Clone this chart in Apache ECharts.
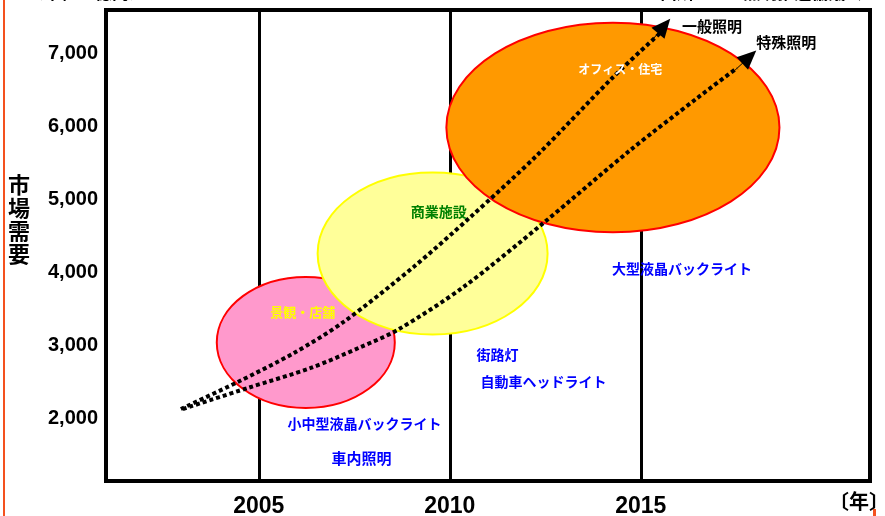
<!DOCTYPE html>
<html><head><meta charset="utf-8">
<script src="https://cdn.jsdelivr.net/npm/echarts@6/dist/echarts.min.js"></script>
<style>html,body{margin:0;padding:0;background:#fff}#c{width:885px;height:516px}</style>
</head><body><div id="c"></div>
<script>
// ---- data ----
const yearTicks = [2005, 2010, 2015];
const demandTicks = [2000, 3000, 4000, 5000, 6000, 7000];

const regionNames = ['景観・店舗', '商業施設', 'オフィス・住宅'];
const regionCenterYear = [2006.23, 2009.55, 2014.27];
const regionCenterDemand = [3047, 4266, 5991];
const regionHalfWidthYears = [2.33, 3.01, 4.36];
const regionHalfHeightDemand = [897, 1109, 1435];
const regionLabelYear = [2006.15, 2009.71, 2014.46];
const regionLabelDemand = [3465, 4834, 6792];

const curveNames = ['一般照明', '特殊照明'];
const generalYears  = [2002.96, 2004.45, 2005.92, 2007.22, 2009.05, 2010.54, 2012.29, 2014.28, 2015.51];
const generalDemand = [2136, 2506, 2903, 3328, 4081, 4765, 5614, 6683, 7285];
const specialYears  = [2003.01, 2004.71, 2006.36, 2007.67, 2008.63, 2010.36, 2012.45, 2014.73, 2016.48, 2017.52];
const specialDemand = [2136, 2424, 2698, 2985, 3218, 3807, 4683, 5683, 6395, 6806];
const generalArrowYears = [2015.30, 2015.61];
const generalArrowDemand = [7189, 7381];
const specialArrowYears = [2017.47, 2017.84];
const specialArrowDemand = [6778, 6956];
const curveLabelYear = [2016.08, 2018.02];
const curveLabelDemand = [7381, 7162];

const applicationNames = ['大型液晶バックライト', '街路灯', '自動車ヘッドライト', '小中型液晶バックライト', '車内照明'];
const applicationYear = [2016.08, 2011.25, 2012.45, 2007.77, 2007.69];
const applicationDemand = [4054, 2876, 2506, 1931, 1466];

// ---- styles ----
const regionFill = ['#FF99CC', '#FFFF99', '#FF9900'];
const regionStroke = ['#FF0000', '#FFFF00', '#FF0000'];
const regionTextColor = ['#FFFF00', '#008000', '#FFFFFF'];
const regionTextSize = [13, 14, 12];
const applicationTextSize = [14, 14, 14, 14, 15];
const CJK = "'Noto Sans CJK JP', sans-serif";
const NUM = "'Liberation Sans', Arial, sans-serif";

const chart = echarts.init(document.getElementById('c'), null, {renderer: 'canvas'});

const regionData = regionNames.map((n, i) => [regionCenterYear[i], regionCenterDemand[i], regionHalfWidthYears[i], regionHalfHeightDemand[i], i]);

const texts = [];
regionNames.forEach((n, i) => texts.push({v: [regionLabelYear[i], regionLabelDemand[i]], text: n, color: regionTextColor[i], size: regionTextSize[i], align: 'center'}));
applicationNames.forEach((n, i) => texts.push({v: [applicationYear[i], applicationDemand[i]], text: n, color: '#0000FF', size: applicationTextSize[i], align: 'center'}));
curveNames.forEach((n, i) => texts.push({v: [curveLabelYear[i], curveLabelDemand[i]], text: n, color: '#000000', size: 15, align: 'left'}));

function arrowLine(xs, ys) {
  return [[{coord: [xs[0], ys[0]]}, {coord: [xs[1], ys[1]]}]];
}

const option = {
  backgroundColor: '#fff',
  animation: false,
  grid: {left: 106, right: 15, top: 10, bottom: 35, show: true, borderColor: '#000', borderWidth: 4, backgroundColor: 'transparent', outerBoundsMode: 'none'},
  xAxis: {
    type: 'value', min: 2001, max: 2021,
    axisLine: {show: false}, axisTick: {show: false}, splitLine: {show: false},
    axisLabel: {customValues: yearTicks, color: '#000', fontWeight: 'bold', fontSize: 23, fontFamily: "'Liberation Sans Narrow', " + NUM, margin: 14, formatter: v => String(v)}
  },
  yAxis: {
    type: 'value', min: 1150, max: 7600,
    axisLine: {show: false}, axisTick: {show: false}, splitLine: {show: false},
    axisLabel: {customValues: demandTicks, color: '#000', fontWeight: 'bold', fontSize: 20, fontFamily: NUM, margin: 8, formatter: v => v.toLocaleString('en-US')}
  },
  graphic: [
    {type: 'rect', left: 3, top: 0, shape: {width: 2, height: 516}, style: {fill: '#F4511E'}, z: 10},
    {type: 'rect', left: 873, top: 509, shape: {width: 3, height: 7}, style: {fill: '#F4511E'}, z: 10},
    {type: 'text', left: 8, top: 173, style: {text: '市\n場\n需\n要', font: "bold 22px " + CJK, lineHeight: 23, fill: '#000'}},
    {type: 'text', left: 829, top: 491, style: {text: '〔年〕', font: "bold 20px " + CJK, fill: '#000'}},
    {type: 'text', left: 27, top: -16, style: {text: '（単位：億円）', font: "bold 17px " + CJK, fill: '#000'}},
    {type: 'text', left: 660, top: -16, style: {text: '出所：LED照明推進協議会', font: "bold 17px " + CJK, fill: '#000'}}
  ],
  series: [
    {
      type: 'line', data: [], z: 1, silent: true,
      markLine: {symbol: 'none', silent: true, z: 1, label: {show: false}, animation: false,
        lineStyle: {color: '#000', width: 3, type: 'solid'},
        emphasis: {disabled: true},
        data: yearTicks.map(v => ({xAxis: v}))}
    },
    {
      type: 'custom', z: 2, silent: true,
      data: regionData,
      encode: {x: 0, y: 1},
      renderItem: (params, api) => {
        const c = api.coord([api.value(0), api.value(1)]);
        const s = api.size([api.value(2), api.value(3)], [api.value(0), api.value(1)]);
        const i = api.value(4);
        return {type: 'ellipse', shape: {cx: c[0], cy: c[1], rx: s[0], ry: s[1]},
          style: {fill: regionFill[i], stroke: regionStroke[i], lineWidth: 2}};
      }
    },
    {
      type: 'line', z: 3, silent: true, smooth: 0.3, symbol: 'none',
      data: generalYears.map((x, i) => [x, generalDemand[i]]),
      lineStyle: {color: '#000', width: 4, type: [4, 3], cap: 'butt'},
      markLine: {symbol: ['none', 'triangle'], symbolSize: [17, 19], silent: true, z: 6, label: {show: false},
        lineStyle: {color: '#000', width: 1, type: 'solid'}, data: arrowLine(generalArrowYears, generalArrowDemand)}
    },
    {
      type: 'line', z: 3, silent: true, smooth: 0.3, symbol: 'none',
      data: specialYears.map((x, i) => [x, specialDemand[i]]),
      lineStyle: {color: '#000', width: 4, type: [4, 3], cap: 'butt'},
      markLine: {symbol: ['none', 'triangle'], symbolSize: [17, 19], silent: true, z: 6, label: {show: false},
        lineStyle: {color: '#000', width: 1, type: 'solid'}, data: arrowLine(specialArrowYears, specialArrowDemand)}
    },
    {
      type: 'custom', z: 7, silent: true,
      data: texts.map((t, i) => [t.v[0], t.v[1], i]),
      encode: {x: 0, y: 1},
      renderItem: (params, api) => {
        const t = texts[api.value(2)];
        const c = api.coord([api.value(0), api.value(1)]);
        return {type: 'text', x: c[0], y: c[1],
          style: {text: t.text, fill: t.color, font: 'bold ' + t.size + 'px ' + CJK, align: t.align, verticalAlign: 'middle'}};
      }
    }
  ]
};
chart.setOption(option);
</script>
</body></html>
